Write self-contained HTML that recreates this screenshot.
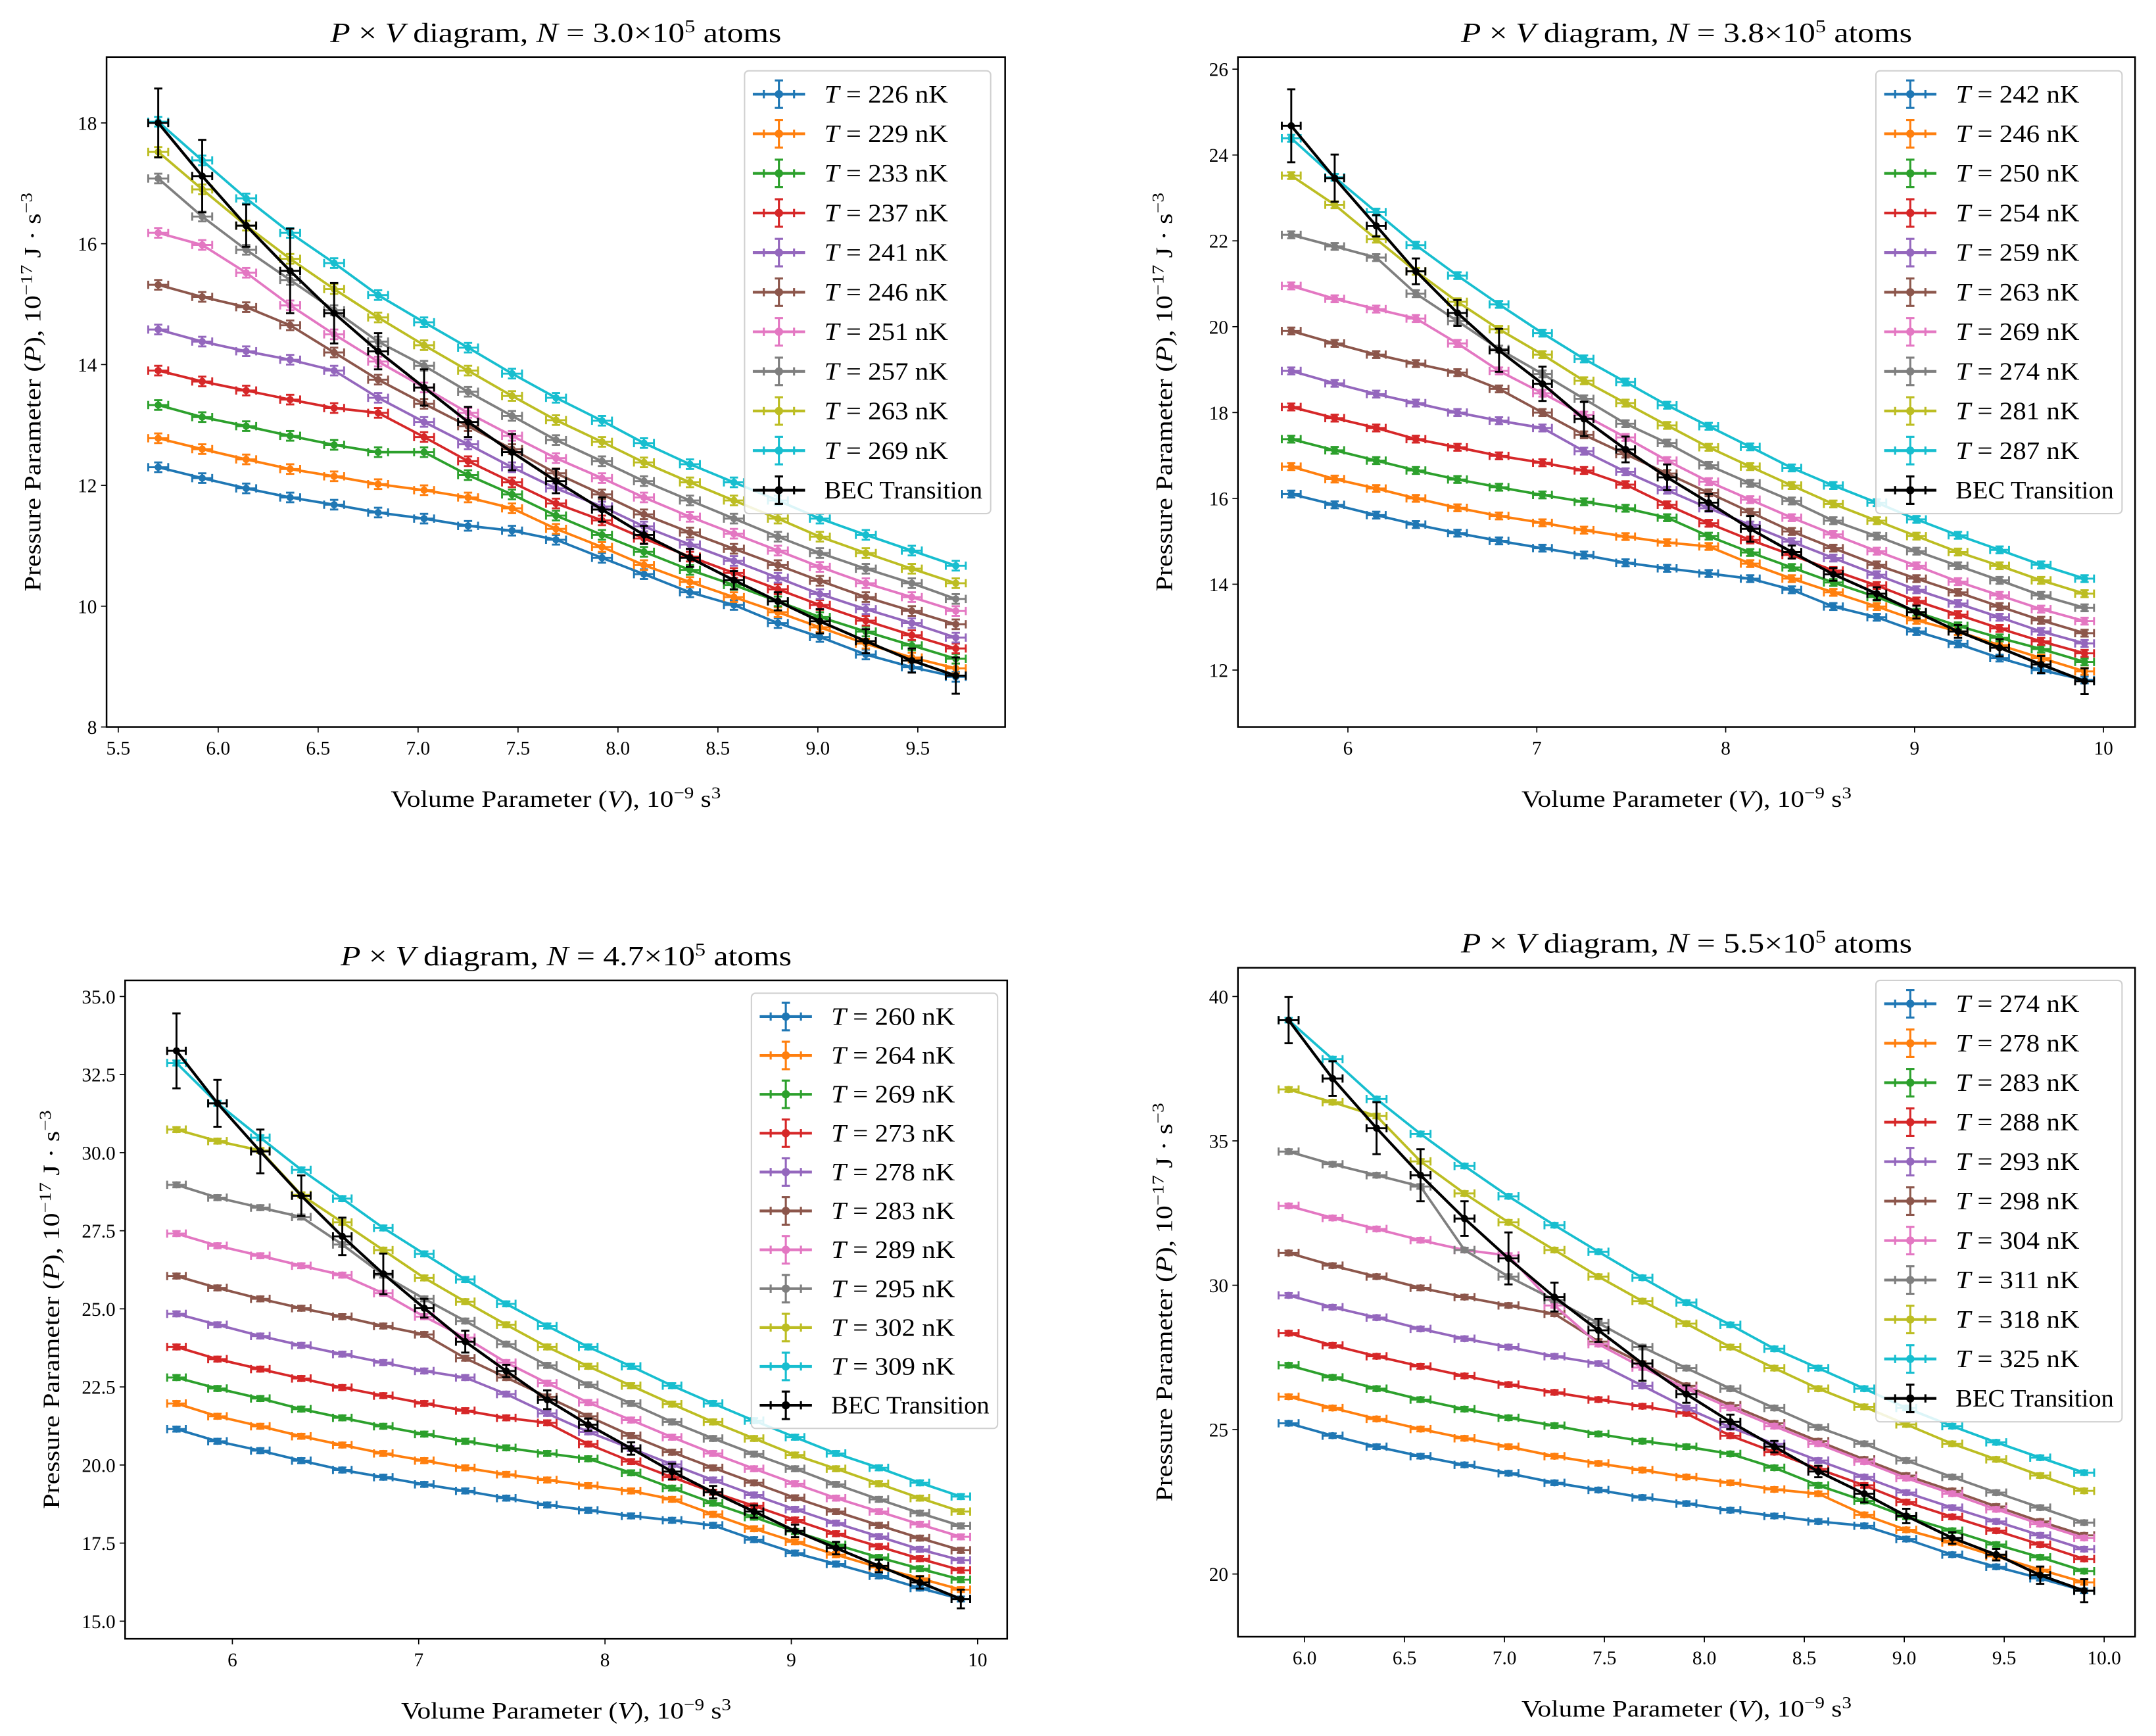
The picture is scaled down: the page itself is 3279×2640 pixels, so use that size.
<!DOCTYPE html>
<html><head><meta charset="utf-8"><style>
html,body{margin:0;padding:0;background:#fff;}
svg{display:block;font-family:"Liberation Serif","DejaVu Serif",serif;}
</style></head><body>
<svg id="fig" width="3279" height="2640" viewBox="0 0 1568 1262.5" preserveAspectRatio="none" xmlns="http://www.w3.org/2000/svg"></svg>
<script>
const colors=["#1f77b4","#ff7f0e","#2ca02c","#d62728","#9467bd","#8c564b","#e377c2","#7f7f7f","#bcbd22","#17becf"];

// ---- Panel 1: N = 3.0e5 ----
const p1N="3.0";
const p1Temps=[226,229,233,237,241,246,251,257,263,269];
const p1X=[5.70,5.92,6.14,6.36,6.58,6.80,7.03,7.25,7.47,7.69,7.92,8.13,8.36,8.58,8.80,9.01,9.24,9.47,9.69];
const p1Vals=[
[12.3,12.12,11.95,11.8,11.68,11.55,11.45,11.33,11.25,11.1,10.8,10.53,10.23,10.02,9.72,9.49,9.2,8.99,8.83],
[12.78,12.6,12.43,12.27,12.15,12.02,11.92,11.8,11.62,11.28,10.98,10.68,10.4,10.15,9.9,9.65,9.38,9.15,8.97],
[13.33,13.13,12.98,12.82,12.67,12.55,12.55,12.17,11.85,11.5,11.18,10.9,10.6,10.35,10.08,9.82,9.58,9.35,9.13],
[13.9,13.72,13.57,13.42,13.28,13.2,12.8,12.4,12.05,11.7,11.42,11.12,10.82,10.55,10.28,10.02,9.76,9.52,9.3],
[14.58,14.38,14.22,14.08,13.9,13.45,13.05,12.68,12.3,11.95,11.65,11.32,11.02,10.75,10.47,10.2,9.95,9.72,9.48],
[15.32,15.12,14.95,14.65,14.2,13.75,13.35,12.98,12.6,12.2,11.85,11.52,11.22,10.95,10.68,10.42,10.15,9.92,9.7],
[16.18,15.98,15.52,14.98,14.5,14.05,13.62,13.2,12.82,12.45,12.12,11.8,11.48,11.2,10.92,10.65,10.38,10.15,9.92],
[17.08,16.45,15.9,15.4,14.9,14.38,13.98,13.55,13.15,12.75,12.4,12.07,11.75,11.45,11.15,10.88,10.62,10.38,10.12],
[17.52,16.9,16.3,15.75,15.25,14.78,14.32,13.9,13.48,13.08,12.72,12.38,12.05,11.75,11.45,11.15,10.88,10.62,10.38],
[18.02,17.38,16.75,16.18,15.68,15.15,14.7,14.28,13.85,13.45,13.07,12.7,12.35,12.05,11.75,11.45,11.18,10.92,10.67]];
const p1Bec=[18.0,17.12,16.3,15.55,14.85,14.22,13.62,13.05,12.55,12.07,11.6,11.18,10.8,10.43,10.08,9.75,9.42,9.1,8.85];
const p1BecErr=[0.57,0.6,0.35,0.7,0.5,0.3,0.3,0.25,0.3,0.2,0.2,0.15,0.15,0.15,0.15,0.2,0.2,0.2,0.3];
const p1XTicks=["5.5","6.0","6.5","7.0","7.5","8.0","8.5","9.0","9.5"];
const p1YTicks=["8","10","12","14","16","18"];

// ---- Panel 2: N = 3.8e5 ----
const p2N="3.8";
const p2Temps=[242,246,250,254,259,263,269,274,281,287];
const p2X=[5.70,5.93,6.15,6.36,6.58,6.80,7.03,7.25,7.47,7.69,7.91,8.13,8.35,8.57,8.80,9.01,9.23,9.45,9.67,9.90];
const p2Vals=[
[16.10,15.85,15.61,15.39,15.19,15.01,14.84,14.68,14.50,14.37,14.25,14.13,13.87,13.48,13.23,12.90,12.61,12.28,12.0,11.77],
[16.74,16.45,16.23,16.0,15.78,15.59,15.43,15.26,15.11,14.97,14.88,14.48,14.13,13.81,13.48,13.16,12.90,12.58,12.28,11.97],
[17.38,17.12,16.88,16.65,16.44,16.26,16.08,15.92,15.77,15.55,15.12,14.74,14.39,14.04,13.70,13.35,13.03,12.75,12.49,12.19],
[18.13,17.87,17.64,17.38,17.19,16.99,16.83,16.65,16.32,15.85,15.42,15.03,14.68,14.32,13.97,13.61,13.29,12.97,12.67,12.39],
[18.97,18.68,18.43,18.22,18.0,17.81,17.64,17.10,16.62,16.19,15.77,15.38,14.99,14.61,14.22,13.87,13.55,13.23,12.90,12.62],
[19.90,19.61,19.35,19.14,18.93,18.55,18.0,17.48,17.03,16.58,16.13,15.68,15.23,14.84,14.45,14.13,13.81,13.48,13.16,12.86],
[20.95,20.65,20.41,20.19,19.61,18.97,18.45,17.94,17.42,16.88,16.39,15.97,15.55,15.16,14.77,14.43,14.06,13.74,13.42,13.14],
[22.14,21.87,21.61,20.77,20.13,19.48,18.90,18.32,17.74,17.29,16.77,16.35,15.94,15.48,15.12,14.77,14.43,14.09,13.74,13.45],
[23.52,22.84,22.04,21.29,20.58,19.94,19.35,18.74,18.22,17.70,17.19,16.74,16.30,15.87,15.48,15.12,14.75,14.43,14.09,13.78],
[24.39,23.48,22.67,21.90,21.19,20.52,19.85,19.25,18.71,18.17,17.68,17.20,16.71,16.30,15.90,15.51,15.14,14.80,14.45,14.13]];
const p2Bec=[24.68,23.46,22.35,21.29,20.32,19.45,18.67,17.85,17.14,16.49,15.90,15.29,14.75,14.23,13.78,13.35,12.90,12.52,12.13,11.74];
const p2BecErr=[0.85,0.55,0.25,0.3,0.3,0.5,0.4,0.4,0.3,0.3,0.2,0.3,0.15,0.15,0.15,0.15,0.15,0.2,0.2,0.3];
const p2XTicks=["6","7","8","9","10"];
const p2YTicks=["12","14","16","18","20","22","24","26"];

// ---- Panel 3: N = 4.7e5 ----
const p3N="4.7";
const p3Temps=[260,264,269,273,278,283,289,295,302,309];
const p3X=[5.70,5.92,6.15,6.37,6.59,6.81,7.03,7.25,7.47,7.69,7.91,8.14,8.36,8.58,8.80,9.02,9.24,9.47,9.69,9.91];
const p3Vals=[
[21.15,20.76,20.46,20.14,19.84,19.61,19.38,19.17,18.94,18.72,18.55,18.37,18.23,18.07,17.61,17.18,16.83,16.45,16.06,15.71],
[21.97,21.56,21.24,20.92,20.64,20.37,20.14,19.91,19.70,19.52,19.34,19.17,18.90,18.42,17.96,17.54,17.13,16.72,16.37,16.01],
[22.80,22.45,22.13,21.79,21.51,21.24,20.99,20.76,20.55,20.37,20.20,19.75,19.26,18.78,18.33,17.87,17.45,17.04,16.68,16.33],
[23.78,23.39,23.07,22.77,22.48,22.22,21.97,21.74,21.51,21.35,20.67,20.11,19.61,19.13,18.69,18.24,17.80,17.39,17.00,16.63],
[24.84,24.49,24.13,23.83,23.55,23.28,23.01,22.80,22.27,21.65,21.06,20.53,20.02,19.52,19.04,18.58,18.14,17.71,17.30,16.95],
[26.05,25.67,25.32,25.02,24.75,24.45,24.18,23.42,22.80,22.18,21.56,20.94,20.41,19.91,19.43,18.95,18.51,18.07,17.66,17.27],
[27.41,27.02,26.70,26.38,26.08,25.50,24.75,24.08,23.28,22.62,22.0,21.44,20.89,20.37,19.88,19.40,18.94,18.51,18.10,17.70],
[28.97,28.56,28.24,27.94,27.06,26.08,25.32,24.61,23.87,23.19,22.57,21.97,21.38,20.85,20.35,19.88,19.38,18.90,18.46,18.05],
[30.74,30.37,30.07,28.65,27.77,26.88,25.99,25.23,24.49,23.78,23.16,22.54,21.95,21.38,20.85,20.32,19.88,19.40,18.94,18.51],
[32.87,31.58,30.48,29.45,28.53,27.59,26.76,25.94,25.16,24.45,23.78,23.16,22.54,21.97,21.42,20.89,20.37,19.91,19.43,18.99]];
const p3Bec=[33.26,31.58,30.04,28.62,27.32,26.12,25.02,23.95,23.01,22.09,21.29,20.53,19.79,19.13,18.51,17.89,17.34,16.77,16.24,15.71];
const p3BecErr=[1.2,0.75,0.7,0.65,0.6,0.65,0.3,0.35,0.2,0.3,0.2,0.2,0.25,0.2,0.2,0.2,0.2,0.2,0.2,0.3];
const p3XTicks=["6","7","8","9","10"];
const p3YTicks=["15.0","17.5","20.0","22.5","25.0","27.5","30.0","32.5","35.0"];

// ---- Panel 4: N = 5.5e5 ----
const p4N="5.5";
const p4Temps=[274,278,283,288,293,298,304,311,318,325];
const p4X=[5.92,6.14,6.36,6.58,6.80,7.02,7.25,7.47,7.69,7.91,8.13,8.35,8.57,8.80,9.01,9.24,9.46,9.68,9.90];
const p4Vals=[
[25.22,24.79,24.41,24.08,23.78,23.49,23.16,22.91,22.65,22.44,22.21,22.01,21.82,21.67,21.21,20.67,20.25,19.85,19.42],
[26.14,25.75,25.37,25.02,24.70,24.41,24.08,23.83,23.60,23.36,23.16,22.93,22.78,22.05,21.53,21.09,20.61,20.15,19.71],
[27.23,26.81,26.42,26.04,25.71,25.41,25.14,24.85,24.60,24.41,24.16,23.68,23.07,22.53,21.98,21.50,21.02,20.58,20.10],
[28.34,27.92,27.54,27.19,26.86,26.56,26.29,26.04,25.81,25.56,24.79,24.22,23.64,23.07,22.49,21.98,21.50,21.02,20.52],
[29.65,29.24,28.88,28.49,28.15,27.86,27.54,27.29,26.52,25.75,25.08,24.51,23.93,23.36,22.82,22.30,21.82,21.34,20.86],
[31.12,30.68,30.30,29.91,29.59,29.30,29.01,28.05,27.29,26.52,25.85,25.22,24.60,23.97,23.41,22.88,22.34,21.82,21.34],
[32.75,32.33,31.95,31.56,31.22,31.03,29.30,27.96,27.15,26.42,25.75,25.12,24.51,23.89,23.32,22.78,22.24,21.73,21.25],
[34.63,34.19,33.81,33.42,31.22,30.30,29.49,28.69,27.86,27.13,26.42,25.75,25.08,24.51,23.93,23.36,22.82,22.30,21.78],
[36.78,36.34,35.86,34.29,33.18,32.18,31.22,30.30,29.45,28.67,27.86,27.13,26.42,25.79,25.18,24.51,23.97,23.41,22.88],
[39.18,37.83,36.45,35.24,34.13,33.08,32.08,31.16,30.26,29.40,28.63,27.80,27.13,26.42,25.75,25.12,24.56,24.03,23.51]];
const p4Bec=[39.18,37.16,35.44,33.81,32.31,30.93,29.59,28.44,27.29,26.23,25.27,24.41,23.55,22.78,22.01,21.25,20.67,19.96,19.42];
const p4BecErr=[0.8,0.6,0.9,0.9,0.6,0.9,0.5,0.4,0.6,0.3,0.25,0.2,0.2,0.3,0.25,0.2,0.2,0.3,0.4];
const p4XTicks=["6.0","6.5","7.0","7.5","8.0","8.5","9.0","9.5","10.0"];
const p4YTicks=["20","25","30","35","40"];

const NS="http://www.w3.org/2000/svg";
const svg=document.getElementById('fig');
function mk(tag,attrs,parent){const e=document.createElementNS(NS,tag);for(const k in attrs)e.setAttribute(k,attrs[k]);(parent||svg).appendChild(e);return e;}

function drawPanel(id,g,N,temps,X,vals,bec,becErr,xt,yt){
  const grp=mk('g',{});
  
  
  const xs=v=>g.xa+(v-g.xv0)*(g.xb-g.xa)/(g.xv1-g.xv0);
  const ys=v=>g.ya+(v-g.yv0)*(g.yb-g.ya)/(g.yv1-g.yv0);
  const cx=(g.l+g.r)/2;
  const t=mk('text',{x:cx-164,y:g.t-11,'font-size':20,textLength:328,lengthAdjust:'spacingAndGlyphs'},grp);
  
  
  t.innerHTML='<tspan font-style="italic">P</tspan> × <tspan font-style="italic">V</tspan> diagram, <tspan font-style="italic">N</tspan> = '+N+'×10<tspan baseline-shift="super" font-size="13">5</tspan> atoms';
  xt.forEach(s=>{const v=parseFloat(s);const x=xs(v);
    mk('line',{x1:x,x2:x,y1:g.b,y2:g.b+4,stroke:'#000','stroke-width':0.8},grp);
    const tx=mk('text',{x:x,y:g.b+20,'text-anchor':'middle','font-size':14},grp);
    
    
    tx.textContent=s;});
  yt.forEach(s=>{const v=parseFloat(s);const y=ys(v);
    mk('line',{x1:g.l-4,x2:g.l,y1:y,y2:y,stroke:'#000','stroke-width':0.8},grp);
    const ty=mk('text',{x:g.l-7,y:y+5,'text-anchor':'end','font-size':14},grp);
    
    
    ty.textContent=s;});
  const xl=mk('text',{x:cx-120,y:g.b+58,'font-size':17,textLength:240,lengthAdjust:'spacingAndGlyphs'},grp);
  
  
  xl.innerHTML='Volume Parameter (<tspan font-style="italic">V</tspan>), 10<tspan baseline-shift="super" font-size="12">−9</tspan> s<tspan baseline-shift="super" font-size="12">3</tspan>';
  const ycx=g.l-48, ycy=(g.t+g.b)/2;
  const yl=mk('text',{x:ycx-145,y:ycy,'font-size':17,textLength:290,lengthAdjust:'spacingAndGlyphs',transform:`rotate(-90 ${ycx} ${ycy})`},grp);
  
  
  yl.innerHTML='Pressure Parameter (<tspan font-style="italic">P</tspan>), 10<tspan baseline-shift="super" font-size="12">−17</tspan> J · s<tspan baseline-shift="super" font-size="12">−3</tspan>';
  function series(xv,yv,errs,col,lw,name){
    const sg=mk('g',{},grp);
    
    
    let d='';
    xv.forEach((x,i)=>{d+=(i?'L':'M')+xs(x).toFixed(2)+' '+ys(yv[i]).toFixed(2);});
    mk('path',{d:d,fill:'none',stroke:col,'stroke-width':lw},sg);
    xv.forEach((x,i)=>{const px=xs(x),py=ys(yv[i]);const e=errs[i];
      const y1=ys(yv[i]+e),y2=ys(yv[i]-e);const hx=xs(x+0.05)-px;
      mk('line',{x1:px,x2:px,y1:y1,y2:y2,stroke:col,'stroke-width':1.4},sg);
      mk('line',{x1:px-3,x2:px+3,y1:y1,y2:y1,stroke:col,'stroke-width':1.4},sg);
      mk('line',{x1:px-3,x2:px+3,y1:y2,y2:y2,stroke:col,'stroke-width':1.4},sg);
      mk('line',{x1:px-hx,x2:px+hx,y1:py,y2:py,stroke:col,'stroke-width':1.4},sg);
      mk('line',{x1:px-hx,x2:px-hx,y1:py-3,y2:py+3,stroke:col,'stroke-width':1.4},sg);
      mk('line',{x1:px+hx,x2:px+hx,y1:py-3,y2:py+3,stroke:col,'stroke-width':1.4},sg);
      const c=mk('circle',{cx:px,cy:py,r:2.6,fill:col},sg);
      
      
    });
  }
  temps.forEach((T,k)=>{series(X,vals[k],vals[k].map(()=>0.08),colors[k],1.8,'series-T'+T);});
  series(X,bec,becErr,'#000',2.0,'series-bec-transition');
  const box=mk('rect',{x:g.l,y:g.t,width:g.r-g.l,height:g.b-g.t,fill:'none',stroke:'#000','stroke-width':1.2},grp);
  
  
  const lg=mk('g',{},grp);
  
  
  mk('rect',{x:g.lx,y:g.ly,width:179,height:g.lh,rx:3,fill:'#fff','fill-opacity':0.85,stroke:'#d0d0d0','stroke-width':1},lg);
  const labels=temps.map(T=>T).concat(['BEC']);
  labels.forEach((T,k)=>{
    const col=k<temps.length?colors[k]:'#000';
    const y=g.ly+17+k*g.lstep;const x0=g.lx+6,x1=g.lx+44,xm=(x0+x1)/2;
    const eg=mk('g',{},lg);
    
    
    mk('line',{x1:x0,x2:x1,y1:y,y2:y,stroke:col,'stroke-width':2},eg);
    mk('line',{x1:xm,x2:xm,y1:y-10,y2:y+10,stroke:col,'stroke-width':1.5},eg);
    mk('line',{x1:xm-3,x2:xm+3,y1:y-10,y2:y-10,stroke:col,'stroke-width':1.5},eg);
    mk('line',{x1:xm-3,x2:xm+3,y1:y+10,y2:y+10,stroke:col,'stroke-width':1.5},eg);
    mk('line',{x1:x0+8,x2:x0+8,y1:y-3,y2:y+3,stroke:col,'stroke-width':1.5},eg);
    mk('line',{x1:x1-8,x2:x1-8,y1:y-3,y2:y+3,stroke:col,'stroke-width':1.5},eg);
    mk('circle',{cx:xm,cy:y,r:3,fill:col},eg);
    const isT=k<temps.length;
    const tx=mk('text',{x:g.lx+58,y:y+6,'font-size':18,textLength:isT?90:115,lengthAdjust:'spacingAndGlyphs'},eg);
    
    
    if(isT) tx.innerHTML='<tspan font-style="italic">T</tspan> = '+T+' nK';
    else tx.textContent='BEC Transition';
  });
}

drawPanel('panel-n-3-0',{l:77.5,r:731,t:41.5,b:528.7,xa:86,xb:667.5,xv0:5.5,xv1:9.5,ya:528.7,yb:89.4,yv0:8,yv1:18,lx:541.5,ly:51.5,lh:322,lstep:28.8},p1N,p1Temps,p1X,p1Vals,p1Bec,p1BecErr,p1XTicks,p1YTicks);
drawPanel('panel-n-3-8',{l:900.3,r:1552.8,t:41.5,b:528.7,xa:980.3,xb:1529.8,xv0:6,xv1:10,ya:487.3,yb:50.3,yv0:12,yv1:26,lx:1364.3,ly:51.5,lh:322,lstep:28.8},p2N,p2Temps,p2X,p2Vals,p2Bec,p2BecErr,p2XTicks,p2YTicks);
drawPanel('panel-n-4-7',{l:91,r:732.5,t:713,b:1191.8,xa:169,xb:711,xv0:6,xv1:10,ya:1179,yb:724.7,yv0:15,yv1:35,lx:546.5,ly:722.3,lh:316.5,lstep:28.27},p3N,p3Temps,p3X,p3Vals,p3Bec,p3BecErr,p3XTicks,p3YTicks);
drawPanel('panel-n-5-5',{l:900.3,r:1552.8,t:703.8,b:1190.3,xa:948.8,xb:1530.3,xv0:6,xv1:10,ya:1144.7,yb:724.7,yv0:20,yv1:40,lx:1364.3,ly:713,lh:321,lstep:28.7},p4N,p4Temps,p4X,p4Vals,p4Bec,p4BecErr,p4XTicks,p4YTicks);
</script>
</body></html>
